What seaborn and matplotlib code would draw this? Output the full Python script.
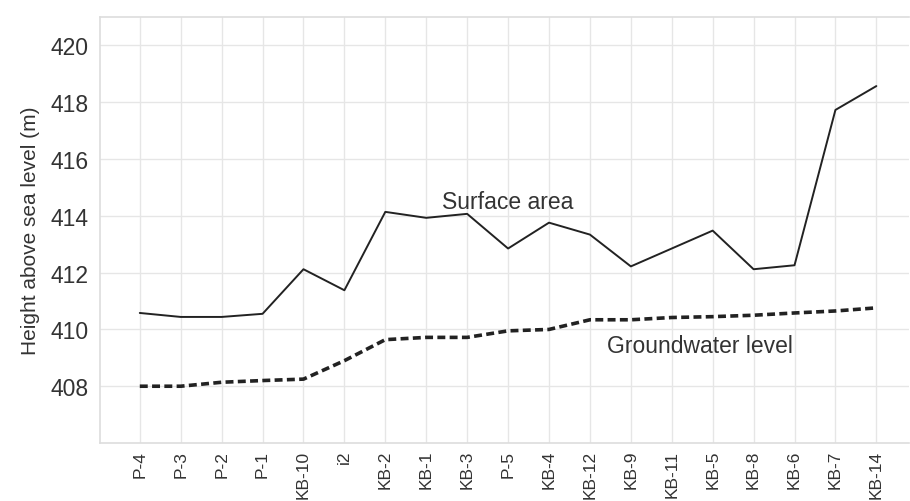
import numpy as np
import pandas as pd
import matplotlib
matplotlib.use("Agg")
import matplotlib.pyplot as plt
import seaborn as sns

# wells / boreholes along the profile
stations = ["P-4", "P-3", "P-2", "P-1", "KB-10", "i2", "KB-2", "KB-1", "KB-3", "P-5",
            "KB-4", "KB-12", "KB-9", "KB-11", "KB-5", "KB-8", "KB-6", "KB-7", "KB-14"]

# heights above sea level (m)
surface = [410.58, 410.44, 410.44, 410.55, 412.12, 411.38, 414.14, 413.93, 414.07, 412.85,
           413.76, 413.34, 412.22, 412.85, 413.48, 412.12, 412.26, 417.73, 418.57]
groundwater = [408.0, 408.0, 408.14, 408.2, 408.25, 408.9, 409.64, 409.72, 409.72, 409.95,
               410.0, 410.34, 410.34, 410.42, 410.45, 410.5, 410.58, 410.65, 410.76]

yticks = [408, 410, 412, 414, 416, 418, 420]

sns.set_theme(style="white")
plt.rcParams["font.family"] = ["Liberation Sans", "DejaVu Sans"]

pos = np.arange(len(stations))
df = pd.DataFrame({"pos": pos, "surface": surface, "groundwater": groundwater})

fig = plt.figure(figsize=(9.1, 5.02), dpi=100)
ax = fig.add_axes([0.110, 0.1155, 0.889, 0.8485])

sns.lineplot(data=df, x="pos", y="surface", ax=ax, color="#222222", linewidth=1.4)
sns.lineplot(data=df, x="pos", y="groundwater", ax=ax, color="#222222", linewidth=2.6,
             linestyle=(0, (2.2, 1.2)))

ax.set_xlim(-0.97, 18.8)
ax.set_ylim(406, 421)
ax.set_xticks(pos)
ax.set_xticklabels(stations, rotation=90, fontsize=12.5, color="#333333")
ax.set_yticks(yticks)
ax.set_yticklabels([str(t) for t in yticks], fontsize=16.5, color="#333333")
ax.set_xlabel("")
ax.set_ylabel("Height above sea level (m)", fontsize=15, color="#333333", labelpad=8)
ax.tick_params(axis="x", length=0, pad=5)
ax.tick_params(axis="y", length=0, pad=8)

ax.grid(True, color="#e6e6e6", linewidth=1.0)
for side in ["top", "left", "bottom"]:
    ax.spines[side].set_color("#dddddd")
    ax.spines[side].set_linewidth(1.2)
ax.spines["right"].set_visible(False)

ax.text(9.0, 414.5, "Surface area", fontsize=16.5, color="#333333", ha="center", va="center")
ax.text(13.7, 409.45, "Groundwater level", fontsize=16.5, color="#333333", ha="center", va="center")

fig.savefig("out.png", dpi=100)
